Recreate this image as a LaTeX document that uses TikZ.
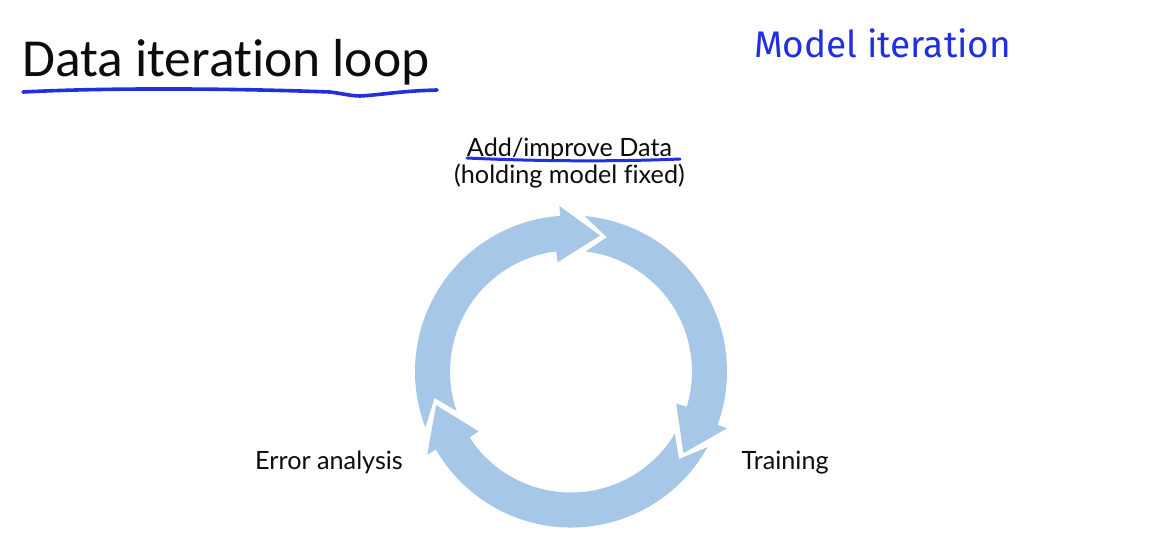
\documentclass[tikz,border=0pt]{standalone}
\usepackage{fontspec}
\setmainfont[Ligatures=NoCommon]{Lato}
\newfontfamily\titlefont[Ligatures=NoCommon]{Carlito}
\newfontfamily\handfont{Fira Sans}
\definecolor{loopfill}{RGB}{167,199,232}
\definecolor{inkblue}{RGB}{32,48,222}
\definecolor{textdark}{RGB}{12,12,12}

\tikzset{
  looparrow/.style={fill=loopfill, draw=none},
  ink/.style={draw=inkblue, line width=3.6pt, line cap=round, line join=round},
  label/.style={inner sep=0pt, text=textdark, font=\fontsize{25.2}{30}\selectfont},
}

\begin{document}
\begin{tikzpicture}[x=1pt,y=1pt]
  \useasboundingbox (0,0) rectangle (1164,-551);
  \fill[white] (0,0) rectangle (1164,-551);

  % slide title and its hand-drawn underline
  \node[anchor=base west, inner sep=0pt, text=textdark,
        font=\titlefont\fontsize{53.5}{62}\selectfont] (title) at (22,-77) {Data iteration loop};
  \draw[ink] (23,-92) .. controls (120,-87) and (250,-89) .. (330,-92)
             .. controls (345,-94) and (352,-96) .. (360,-96)
             .. controls (380,-95) and (400,-91) .. (437,-90);

  % handwritten note
  \node[anchor=base west, inner sep=0pt, text=inkblue,
        font=\handfont\fontsize{37}{42}\selectfont] (note) at (754,-57) {Model iteration};

  % three-arrow cycle; each arrow: (angle of preceding tip, angle of own tip)
  \begin{scope}[shift={(571,-371.5)}]
    \foreach \t/\p in {194/78, 78/-36, -36/-166} {
      \pgfmathsetmacro{\tailout}{\t+7}
      \pgfmathsetmacro{\tailin}{\t+5}
      \pgfmathsetmacro{\notch}{\t-3}
      \pgfmathsetmacro{\barbout}{\p+16}
      \pgfmathsetmacro{\barbin}{\p+19}
      \fill[looparrow] (\tailout:156pt)
        arc[start angle=\tailout, end angle=\barbout, radius=156pt]
        -- (\barbout:166pt) -- (\p:139pt) -- (\barbin:110pt) -- (\barbin:121pt)
        arc[start angle=\barbin, end angle=\tailin, radius=121pt]
        -- (\notch:139pt) -- cycle;
    }
  \end{scope}

  % stage labels
  \node[label, anchor=base] (add) at (569.5,-156) {Add/improve Data};
  \node[label, anchor=base] (hold) at (569.5,-183) {(holding model fixed)};
  \draw[ink, line width=3pt] (467,-158) .. controls (530,-161) and (610,-162) .. (680,-159);
  \node[label, anchor=base west] (err) at (255,-469.3) {Error analysis};
  \node[label, anchor=base west] (train) at (741.5,-469.3) {Training};
\end{tikzpicture}
\end{document}
